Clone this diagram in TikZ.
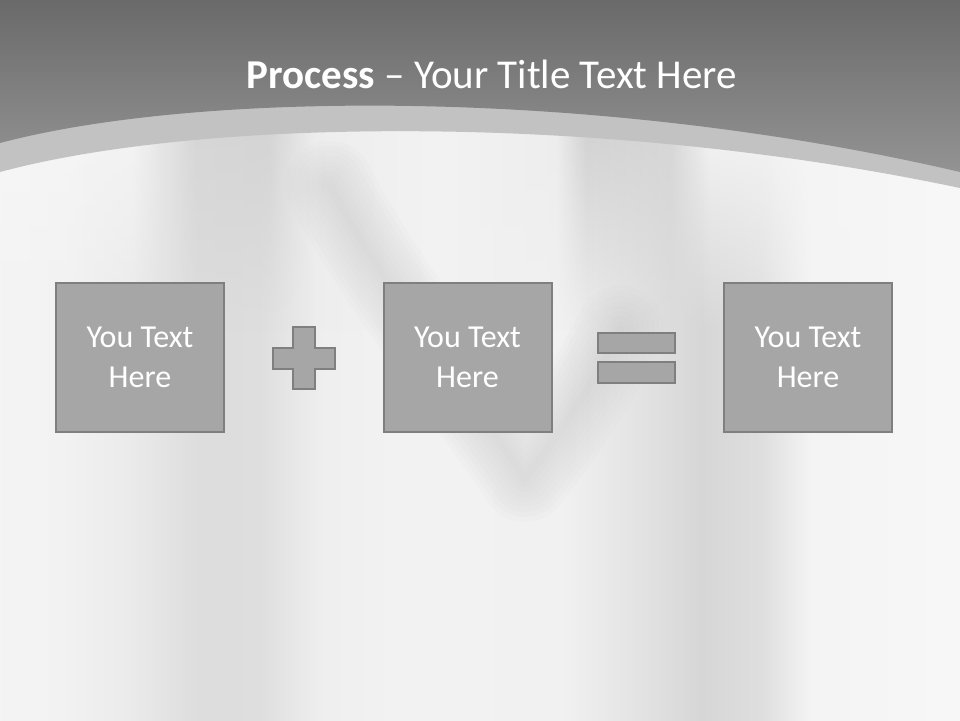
\documentclass[tikz,border=0pt]{standalone}
\usepackage{fontspec}
\setmainfont{Carlito}
\usetikzlibrary{fadings}

\definecolor{boxfill}{HTML}{A6A6A6}
\definecolor{boxline}{HTML}{7F7F7F}
\definecolor{bandcol}{HTML}{C2C2C2}
\definecolor{headtop}{HTML}{6A6A6A}
\definecolor{headbot}{HTML}{939393}
\definecolor{shadowcol}{HTML}{A0A0A0}

% background horizontal shading: path spans 25bp..75bp
\pgfdeclarehorizontalshading{bgshade}{100bp}{%
  color(0bp)=(white!95.5!black);
  color(25bp)=(white!95.5!black);
  color(28.1bp)=(white!95!black);
  color(31.8bp)=(white!92!black);
  color(35.4bp)=(white!86.5!black);
  color(38.5bp)=(white!87!black);
  color(41.7bp)=(white!93.5!black);
  color(45.8bp)=(white!95!black);
  color(54.2bp)=(white!94.5!black);
  color(58.3bp)=(white!89!black);
  color(61.5bp)=(white!84!black);
  color(64.6bp)=(white!87!black);
  color(67.2bp)=(white!95.5!black);
  color(75bp)=(white!97!black);
  color(100bp)=(white!97!black)}

% upper streaks
\pgfdeclarehorizontalshading{topshade}{100bp}{%
  color(0bp)=(white!96.5!black);
  color(25bp)=(white!96.5!black);
  color(32bp)=(white!95.5!black);
  color(35.2bp)=(white!84!black);
  color(39bp)=(white!83!black);
  color(41.5bp)=(white!93!black);
  color(48bp)=(white!95!black);
  color(54bp)=(white!93!black);
  color(55.6bp)=(white!82!black);
  color(60bp)=(white!84!black);
  color(62bp)=(white!95.5!black);
  color(75bp)=(white!97!black);
  color(100bp)=(white!97!black)}

\tikzfading[name=fadedown, top color=transparent!0, bottom color=transparent!100]

\tikzset{
  textbox/.style={draw=boxline, fill=boxfill, line width=2pt,
    minimum width=168pt, minimum height=149pt, inner sep=0pt,
    align=center, text=white, font=\fontsize{32}{40}\selectfont},
  sign/.style={draw=boxline, fill=boxfill, line width=2.5pt, line join=miter},
  softstroke/.style={draw=shadowcol, line cap=round, line join=round, opacity=0.028}
}

\begin{document}
\begin{tikzpicture}[x=1pt,y=-1pt]
\useasboundingbox (0,0) rectangle (960,720);

% background
\shade[shading=bgshade] (0,0) rectangle (960,720);
\shade[shading=topshade, path fading=fadedown] (0,120) rectangle (960,330);

% soft V-shaped shadow
\foreach \w in {8,18,28,38,48,58,68,78,88} {
  \draw[softstroke, line width=\w pt]
    (330,185) .. controls (370,265) and (450,370) .. (525,478)
    .. controls (555,440) and (590,390) .. (620,330);
}

% band under header
\fill[bandcol] (0,0) -- (960,0) -- (960,188)
  .. controls (600,112) and (200,118) .. (0,172) -- cycle;
% header
\shade[top color=headtop, bottom color=headbot] (0,0) -- (960,0) -- (960,172)
  .. controls (600,88) and (200,90) .. (0,143) -- cycle;

% title
\node[text=white, font=\fontsize{41}{44}\selectfont, anchor=base] (title) at (492,88)
  {\textbf{Process} – Your Title Text Here};

% boxes
\node[textbox] (b1) at (140,357.5) {You Text\\Here};
\node[textbox] (b2) at (467.5,357.5) {You Text\\Here};
\node[textbox] (b3) at (808,357.5) {You Text\\Here};

% plus sign
\draw[sign] (293,327) -- (315,327) -- (315,348) -- (335,348) -- (335,369)
  -- (315,369) -- (315,389) -- (293,389) -- (293,369) -- (273,369)
  -- (273,348) -- (293,348) -- cycle;

% equals sign
\draw[sign] (598,333) rectangle (675,353);
\draw[sign] (598,362) rectangle (675,383);
\end{tikzpicture}
\end{document}
